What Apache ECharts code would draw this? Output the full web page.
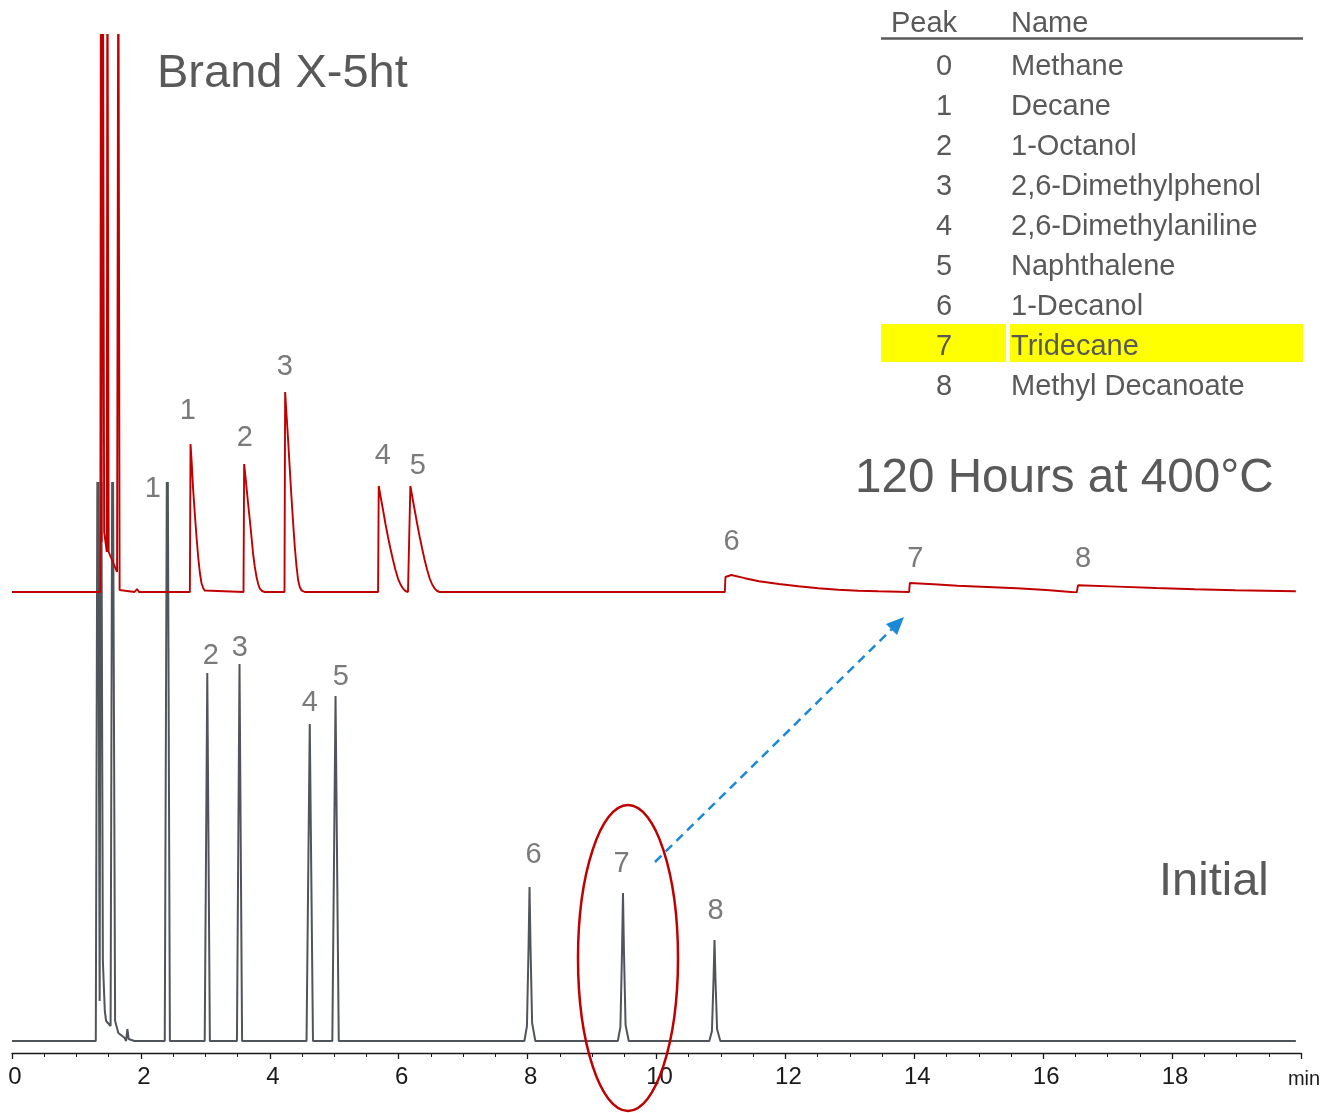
<!DOCTYPE html>
<html>
<head>
<meta charset="utf-8">
<script src="https://cdn.jsdelivr.net/npm/echarts@6/dist/echarts.min.js"></script>
<style>
  html, body { margin: 0; padding: 0; background: #fff; }
  #chart { width: 1325px; height: 1113px; }
</style>
</head>
<body>
<div id="chart"></div>
<script>
(function () {

  'use strict';

  // trace after 120 h at 400 C  [min, signal]
  var agedTrace = [
    [0, 0], [1.37, 0], [1.38, 700], [1.39, 50], [1.41, 700], [1.43, 60], [1.47, 40],
    [1.48, 700], [1.50, 40], [1.63, 20], [1.65, 700], [1.67, 2], [1.90, 0], [1.94, 3], [1.97, 0],
    // peak 1
    [2.760, 0], [2.770, 148], [2.785, 133], [2.800, 115], [2.811, 102], [2.837, 78], [2.863, 55],
    [2.889, 35], [2.915, 19], [2.940, 9], [2.966, 4], [2.990, 1.5], [3.018, 0],
    // peak 2
    [3.592, 0], [3.602, 128], [3.620, 117], [3.638, 105], [3.664, 88], [3.690, 72], [3.716, 55],
    [3.741, 38], [3.768, 25], [3.794, 15], [3.820, 8], [3.845, 3.4], [3.880, 1], [3.922, 0],
    // peak 3
    [4.228, 0], [4.238, 200], [4.261, 176], [4.284, 152], [4.310, 123], [4.336, 95], [4.362, 69],
    [4.388, 45], [4.414, 26], [4.439, 12], [4.465, 5], [4.491, 1.7], [4.543, 0],
    // peak 4
    [5.680, 0], [5.690, 106], [5.723, 94], [5.757, 82], [5.795, 68], [5.834, 55], [5.873, 43],
    [5.912, 32], [5.950, 22], [5.989, 13.4], [6.028, 7.5], [6.067, 3.4], [6.105, 1], [6.144, 0],
    // peak 5
    [6.171, 0], [6.181, 106], [6.214, 94], [6.248, 82], [6.287, 68], [6.326, 55], [6.365, 43],
    [6.403, 32], [6.442, 22], [6.481, 13.4], [6.520, 7.5], [6.558, 3.4], [6.597, 1], [6.636, 0],
    // peaks 6 to 8
    [11.06, 0], [11.07, 15], [11.16, 17], [11.37, 13.8], [11.59, 10.7], [11.90, 8], [12.20, 5.7],
    [12.51, 3.8], [12.82, 2.3], [13.13, 1.3], [13.44, 0.7], [13.92, 0],
    [13.93, 9], [14.30, 7.8], [14.67, 6.3], [15.13, 5], [15.59, 3.7], [16.05, 2], [16.52, -0.5],
    [16.54, 6.7], [17.15, 5.4], [17.75, 4], [18.35, 2.8], [18.98, 1.7], [19.92, 0.7]
  ];

  // initial trace [min, signal]
  var initialTrace = [
    [0, 0], [1.30, 0], [1.33, 700], [1.36, 40], [1.38, 700], [1.41, 80], [1.44, 30], [1.46, 20],
    [1.53, 15], [1.56, 700], [1.60, 20], [1.65, 8], [1.75, 3], [1.77, 0], [1.79, 12], [1.81, 2], [1.9, 0],
    [2.37, 0], [2.41, 700], [2.45, 0],
    [2.99, 0], [3.03, 368], [3.07, 0],
    [3.49, 0], [3.53, 377], [3.57, 0],
    [4.57, 0], [4.62, 317], [4.67, 0],
    [4.97, 0], [5.02, 345], [5.07, 0],
    [7.95, 0], [7.99, 15], [8.015, 95], [8.03, 154], [8.045, 95], [8.07, 18], [8.12, 0],
    [9.40, 0], [9.44, 14], [9.465, 90], [9.48, 148], [9.495, 90], [9.52, 16], [9.57, 0],
    [10.82, 0], [10.86, 10], [10.885, 62], [10.90, 101], [10.915, 62], [10.94, 12], [10.99, 0],
    [19.92, 0]
  ];

  var agedLabels = [
    ['1', 2.729, 181], ['2', 3.612, 154], ['3', 4.233, 225], ['4', 5.752, 136],
    ['5', 6.295, 126], ['6', 11.163, 50], ['7', 14.016, 33], ['8', 16.620, 33]
  ];
  var initialLabels = [
    ['1', 2.186, 552], ['2', 3.085, 385], ['3', 3.535, 393], ['4', 4.620, 338],
    ['5', 5.101, 364], ['6', 8.093, 186], ['7', 9.457, 177], ['8', 10.915, 130]
  ];

  var peakIds = ['0', '1', '2', '3', '4', '5', '6', '7', '8'];
  var peakNames = ['Methane', 'Decane', '1-Octanol', '2,6-Dimethylphenol', '2,6-Dimethylaniline',
    'Naphthalene', '1-Decanol', 'Tridecane', 'Methyl Decanoate'];
  var highlightPeak = '7';

  var textColor = '#595959';
  var axisColor = '#1a1a1a';
  var fontFamily = 'Liberation Sans, Arial, sans-serif';

  function labelSeries(list, idx) {
    return {
      type: 'scatter',
      xAxisIndex: idx,
      yAxisIndex: idx,
      symbolSize: 0,
      silent: true,
      z: 5,
      label: {
        show: true,
        position: 'inside',
        formatter: function (p) { return p.data[2]; },
        fontSize: 29,
        color: textColor,
        fontFamily: fontFamily
      },
      data: list.map(function (d) { return [d[1], d[2], d[0]]; })
    };
  }

  // table graphics
  var graphics = [];
  var tableX = 881, tableRight = 1303, numX = 944, nameX = 1011, rowY0 = 67, rowStep = 40;
  var tableFont = 29;
  graphics.push({
    type: 'text', x: 891, y: 24,
    style: { text: 'Peak', fontSize: tableFont, fill: textColor, fontFamily: fontFamily, verticalAlign: 'middle' }
  });
  graphics.push({
    type: 'text', x: nameX, y: 24,
    style: { text: 'Name', fontSize: tableFont, fill: textColor, fontFamily: fontFamily, verticalAlign: 'middle' }
  });
  graphics.push({
    type: 'line',
    shape: { x1: tableX, y1: 38.5, x2: tableRight, y2: 38.5 },
    style: { stroke: textColor, lineWidth: 2.5 }
  });
  peakIds.forEach(function (id, i) {
    var cy = rowY0 + i * rowStep;
    if (id === highlightPeak) {
      graphics.push({ type: 'rect', shape: { x: tableX, y: cy - 23, width: 125, height: 38 }, style: { fill: '#ffff00' }, z: -1 });
      graphics.push({ type: 'rect', shape: { x: 1010, y: cy - 23, width: tableRight - 1010, height: 38 }, style: { fill: '#ffff00' }, z: -1 });
    }
    graphics.push({
      type: 'text', x: numX, y: cy,
      style: { text: id, fontSize: tableFont, fill: textColor, fontFamily: fontFamily, align: 'center', verticalAlign: 'middle' }
    });
    graphics.push({
      type: 'text', x: nameX, y: cy,
      style: { text: peakNames[i], fontSize: tableFont, fill: textColor, fontFamily: fontFamily, align: 'left', verticalAlign: 'middle' }
    });
  });

  // titles
  graphics.push({ type: 'text', x: 157, y: 74, style: { text: 'Brand X-5ht', fontSize: 47, fill: textColor, fontFamily: fontFamily, verticalAlign: 'middle' } });
  graphics.push({ type: 'text', x: 855, y: 479, style: { text: '120 Hours at 400\u00B0C', fontSize: 47.6, fill: textColor, fontFamily: fontFamily, verticalAlign: 'middle' } });
  graphics.push({ type: 'text', x: 1159, y: 882, style: { text: 'Initial', fontSize: 47, fill: textColor, fontFamily: fontFamily, verticalAlign: 'middle' } });

  // ellipse round peak 7 and dashed arrow
  graphics.push({
    type: 'ellipse',
    shape: { cx: 628, cy: 958, rx: 50, ry: 153 },
    style: { fill: null, stroke: '#c00000', lineWidth: 2.5 },
    z: 10
  });
  graphics.push({
    type: 'line',
    shape: { x1: 655, y1: 862, x2: 895, y2: 626 },
    style: { stroke: '#1a8ad6', lineWidth: 2.5, lineDash: [9, 6] },
    z: 10
  });
  graphics.push({
    type: 'polygon',
    shape: { points: [[904, 617], [886, 624], [897, 635]] },
    style: { fill: '#1a8ad6' },
    z: 10
  });

  var chart = echarts.init(document.getElementById('chart'));
  var option = {
    animation: false,
    grid: [
      { left: 12, width: 1289, top: 35, height: 557 },
      { left: 12, width: 1289, top: 483, height: 558 }
    ],
    xAxis: [
      { gridIndex: 0, type: 'value', min: 0, max: 20, show: false },
      {
        gridIndex: 1, type: 'value', min: 0, max: 20, interval: 2, offset: 12,
        axisLine: { show: true, onZero: false, lineStyle: { color: axisColor, width: 1.3 } },
        axisTick: { show: true, length: 6, lineStyle: { color: axisColor, width: 1.3 } },
        minorTick: { show: true, splitNumber: 4, length: 4, lineStyle: { color: axisColor } },
        splitLine: { show: false },
        axisLabel: {
          margin: 12,
          fontSize: 24,
          color: axisColor,
          fontFamily: fontFamily,
          padding: [0, 0, 0, 6],
          formatter: function (v) { return v === 20 ? '{m|min}' : '{n|' + v + '}'; },
          rich: {
            n: { fontSize: 24, color: axisColor, fontFamily: fontFamily },
            m: { fontSize: 20, color: axisColor, fontFamily: fontFamily, padding: [4, 0, 0, 0] }
          }
        }
      }
    ],
    yAxis: [
      { gridIndex: 0, type: 'value', min: 0, max: 557, show: false },
      { gridIndex: 1, type: 'value', min: 0, max: 558, show: false }
    ],
    series: [
      {
        name: 'Initial', type: 'line', xAxisIndex: 1, yAxisIndex: 1,
        data: initialTrace, showSymbol: false, clip: true, z: 2,
        lineStyle: { color: '#50555b', width: 2 }
      },
      {
        name: '120 Hours at 400°C', type: 'line', xAxisIndex: 0, yAxisIndex: 0,
        data: agedTrace, showSymbol: false, clip: true, z: 3,
        lineStyle: { color: '#c00000', width: 1.9 }
      },
      labelSeries(agedLabels, 0),
      labelSeries(initialLabels, 1)
    ],
    graphic: graphics
  };
  chart.setOption(option);

})();
</script>
</body>
</html>
